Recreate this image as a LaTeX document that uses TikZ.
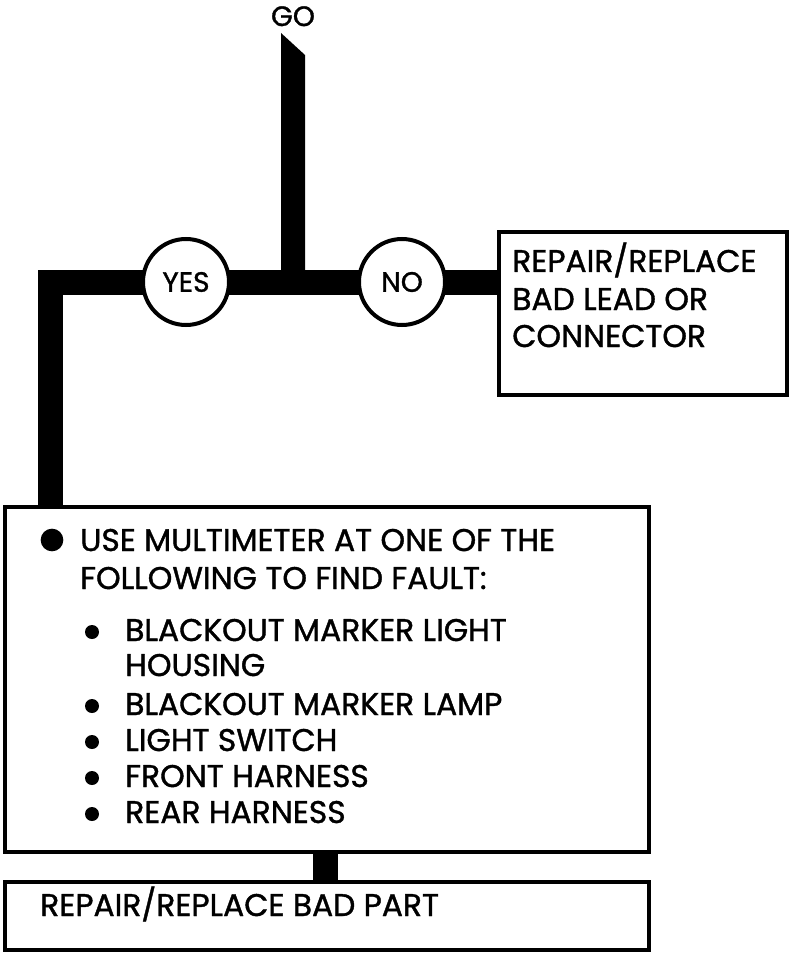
\documentclass[tikz,border=0pt]{standalone}
\usepackage{fontspec}
\setmainfont{Poppins}[FakeBold=1.2]
\usetikzlibrary{backgrounds}
\begin{document}
\begin{tikzpicture}[x=0.75pt,y=-0.75pt,
  box/.style={draw, line width=3pt, fill=white, inner sep=0pt},
  ring/.style={draw, circle, line width=3pt, fill=white, inner sep=0pt, minimum size=64.5pt, font=\fontsize{21}{24}\selectfont},
  bar/.style={line width=18.75pt, line cap=butt, line join=miter},
  txt/.style={anchor=base west, inner sep=0pt, font=\fontsize{23.5}{26}\selectfont},
  bigdot/.style={circle, fill, inner sep=0pt, minimum size=17pt},
  dot/.style={circle, fill, inner sep=0pt, minimum size=10.5pt},
]
\useasboundingbox (0,0) rectangle (804,959);

% nodes
\node[anchor=base, inner sep=0pt, font=\fontsize{21}{24}\selectfont] (go) at (293,26) {GO};
\node[ring] (yes) at (186,282) {YES};
\node[ring] (no) at (402,282) {NO};
\node[box, anchor=north west, minimum width=216pt, minimum height=122.25pt] (rbox) at (497,230) {};
\node[box, anchor=north west, minimum width=483pt, minimum height=258.75pt] (big) at (3,505) {};
\node[box, anchor=north west, minimum width=483pt, minimum height=51pt] (bot) at (3,880) {};
\coordinate (lc) at (50,282);

% texts
\node[txt] (r1) at (512,272) {REPAIR/REPLACE};
\node[txt] (r2) at (512,310) {BAD LEAD OR};
\node[txt] (r3) at (512,347) {CONNECTOR};

\node[bigdot] (d0) at (52,540) {};
\node[txt] (t1) at (80,551) {USE MULTIMETER AT ONE OF THE};
\node[txt] (t2) at (80,589) {FOLLOWING TO FIND FAULT:};
\node[dot] (d1) at (92,632) {};
\node[txt] (t3) at (125,641) {BLACKOUT MARKER LIGHT};
\node[txt] (t4) at (125,676) {HOUSING};
\node[dot] (d2) at (92,706) {};
\node[txt] (t5) at (125,715) {BLACKOUT MARKER LAMP};
\node[dot] (d3) at (92,742) {};
\node[txt] (t6) at (125,751) {LIGHT SWITCH};
\node[dot] (d4) at (92,778) {};
\node[txt] (t7) at (125,787) {FRONT HARNESS};
\node[dot] (d5) at (92,814) {};
\node[txt] (t8) at (125,823) {REAR HARNESS};

\node[txt] (b1) at (40,916) {REPAIR/REPLACE BAD PART};

% connectors
\begin{scope}[on background layer]
  \fill (281,33) -- (305,55) -- (305,282) -- (281,282) -- cycle;
  \draw[bar] (no.center) -- (no.center -| rbox.west);
  \draw[bar] (no.center) -- (yes.center);
  \draw[bar] (yes.center) -- (lc) -- (lc |- big.north);
  \draw[bar] (big.south -| 325.5,0) -- (bot.north -| 325.5,0);
\end{scope}
\end{tikzpicture}
\end{document}
